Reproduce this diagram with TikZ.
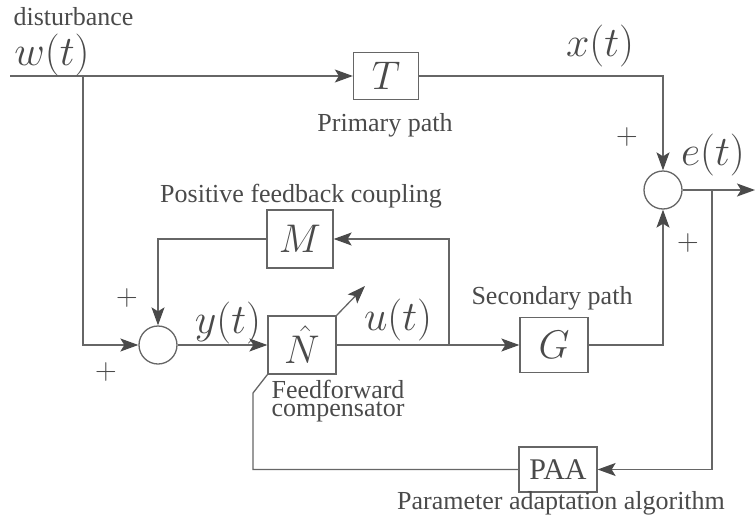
\RequirePackage{fix-cm}
\documentclass[tikz,border=0pt]{standalone}
\usepackage{fontspec}
\setmainfont{Liberation Serif}
\usetikzlibrary{arrows.meta}
\definecolor{lc}{HTML}{666666}
\definecolor{tc}{HTML}{4A4A4A}
\definecolor{ac}{HTML}{4A4A4A}
\begin{document}
\begin{tikzpicture}[x=1pt,y=-1pt,
  every path/.style={line width=1.3pt},
  wire/.style={draw=lc, -{Stealth[length=18pt,width=13pt,inset=4pt,color=ac]}},
  plain/.style={draw=lc},
  blk/.style={draw=lc, fill=white, line width=1.3pt, inner sep=0pt, text=tc, font=\fontsize{40}{44}\selectfont},
  sumc/.style={draw=lc, fill=white, circle, line width=1.3pt, minimum size=38pt, inner sep=0pt},
  lbl/.style={text=tc, font=\fontsize{26}{28}\selectfont, inner sep=0pt},
  sig/.style={text=tc, font=\fontsize{42}{46}\selectfont, inner sep=0pt},
  pm/.style={text=tc, font=\fontsize{30}{32}\selectfont, inner sep=0pt}]
\useasboundingbox (0,0) rectangle (756,517);

% blocks
\node[blk, minimum width=65pt, minimum height=47pt] (T) at (386,76) {$T$};
\node[blk, minimum width=66pt, minimum height=58pt] (M) at (300,239) {$M$};
\node[blk, minimum width=68pt, minimum height=58pt] (N) at (302,345) {$\hat{N}$};
\node[blk, minimum width=68pt, minimum height=55pt] (G) at (554,345) {$G$};
\node[blk, minimum width=78pt, minimum height=45pt, font=\fontsize{30}{32}\selectfont] (PAA) at (558,469.5) {PAA};
\node[sumc] (sE) at (663,190) {};
\node[sumc] (sY) at (158,345) {};

% coordinates
\coordinate (win) at (10,76);
\coordinate (jw) at (83,76);
\coordinate (eout) at (755,190);
\coordinate (eb) at (712,190);
\coordinate (ub) at (449,345);
\coordinate (pv) at (253,393);
\coordinate (adt) at (365,286);

% connectors
\draw[wire] (win) -- (T.west);
\draw[wire] (T.east) -| (sE.north);
\draw[wire] (sE.east) -- (eout);
\draw[wire] (eb) |- (PAA.east);
\draw[plain] (PAA.west) -| (pv) -- (N.south west);
\draw[wire] (N.north east) -- (adt);
\draw[wire] (jw) |- (sY.west);
\draw[wire] (sY.east) -- (N.west);
\draw[wire] (N.east) -- (G.west);
\draw[wire] (ub) |- (M.east);
\draw[wire] (M.west) -| (sY.north);
\draw[wire] (G.east) -| (sE.south);

% labels
\node[lbl, anchor=west] (ldist) at (13,17) {disturbance};
\node[sig] (lw) at (52,55) {$w(t)$};
\node[sig] (lx) at (600,46) {$x(t)$};
\node[sig] (le) at (713,155) {$e(t)$};
\node[sig] (ly) at (228,323) {$y(t)$};
\node[sig] (lu) at (398,320) {$u(t)$};
\node[lbl] (lprim) at (385,125) {Primary path};
\node[lbl] (lpos) at (301,196) {Positive feedback coupling};
\node[lbl] (lsec) at (552,298) {Secondary path};
\node[lbl, anchor=west] (lff1) at (271,389) {Feedforward};
\node[lbl, anchor=west] (lff2) at (271,412) {compensator};
\node[lbl] (lpaa) at (561,503) {Parameter adaptation algorithm};
\node[pm] (p1) at (627,137) {$+$};
\node[pm] (p2) at (688,243) {$+$};
\node[pm] (p3) at (127,298) {$+$};
\node[pm] (p4) at (106,372) {$+$};
\end{tikzpicture}
\end{document}
